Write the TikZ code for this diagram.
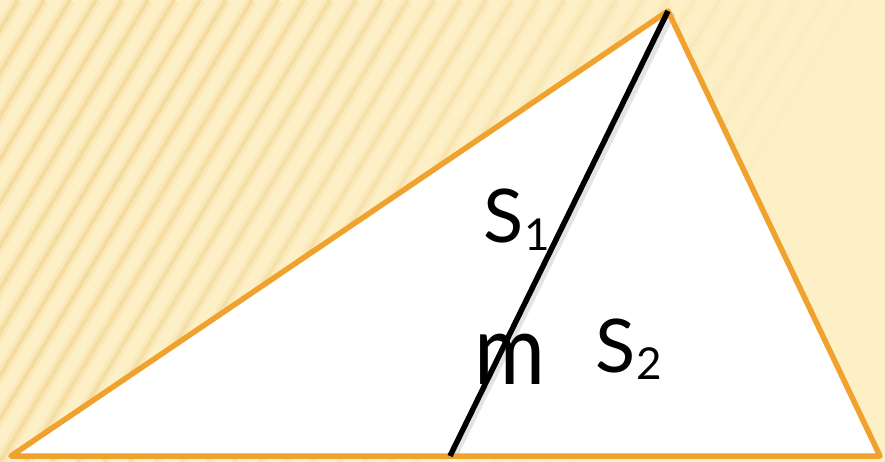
\documentclass[tikz,border=0pt]{standalone}
\usepackage{fontspec}
\setmainfont{Lato}
\begin{document}
\begin{tikzpicture}[x=1pt,y=-1pt]
\definecolor{bgcream}{HTML}{FDEFC6}
\definecolor{stripecol}{HTML}{F0D28A}
\definecolor{edgeorange}{HTML}{EFA22E}
\tikzset{
  stripesoft/.style={stripecol, line width=11pt},
  stripecore/.style={stripecol, line width=4pt},
  edge/.style={edgeorange, line width=5.5pt, line join=round, line cap=round},
  cutline/.style={black, line width=5.5pt},
  shadowline/.style={black!35, line width=7pt, opacity=0.3},
  lbl/.style={inner sep=0pt, anchor=base west, text=black},
  sub/.style={}
}
\fill[bgcream] (0,0) rectangle (885,462);
\useasboundingbox (0,0) rectangle (885,462);
\begin{scope}
\clip (0,0) rectangle (885,462);
\foreach \i in {-12,...,30}{
  \pgfmathsetmacro\xo{\i*26}
  \pgfmathsetmacro\op{max(0,min(0.5,0.6*(1-(\xo+139)/720)))}
  \draw[stripesoft, draw opacity=0.45*\op] (\xo,462) -- ++(278,-462);
  \draw[stripecore, draw opacity=\op] (\xo,462) -- ++(278,-462);
}
\end{scope}
\coordinate (A) at (11,456);
\coordinate (C) at (668,11);
\coordinate (B) at (880,456);
\coordinate (D) at (450,456);
\fill[white] (A) -- (C) -- (B) -- cycle;
\draw[shadowline] ([shift={(4,2)}]C) -- ([shift={(4,0)}]D);
\draw[edge] (A) -- (C) -- (B) -- cycle;
\draw[cutline] (C) -- (D);
\node[lbl] (s1) at (483,243) {\fontsize{74}{74}\selectfont S\kern1pt\raisebox{-7pt}{\fontsize{44}{44}\selectfont 1}};
\node[lbl] (m) at (474,384) {\fontsize{98}{98}\selectfont\scalebox{0.88}[1]{m}};
\node[lbl] (s2) at (595,372) {\fontsize{74}{74}\selectfont S\kern1pt\raisebox{-7pt}{\fontsize{44}{44}\selectfont 2}};
\end{tikzpicture}
\end{document}
